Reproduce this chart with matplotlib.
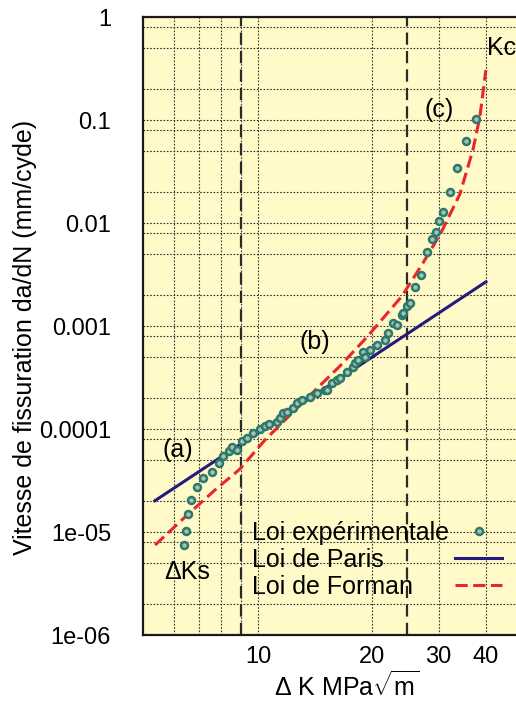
import matplotlib
matplotlib.use("Agg")
import matplotlib.pyplot as plt
from matplotlib.lines import Line2D

plt.rcParams['font.family'] = ['Liberation Sans', 'DejaVu Sans']
plt.rcParams['mathtext.fontset'] = 'custom'
plt.rcParams['mathtext.rm'] = 'Liberation Sans'

# experimental points (delta K, da/dN)
dk_exp = [6.36, 6.44, 6.52, 6.64, 6.90, 7.16, 7.56, 7.91, 8.08, 8.39, 8.52, 8.80,
          9.05, 9.33, 9.70, 10.12, 10.43, 10.72, 11.22, 11.43, 11.64, 11.93, 12.37,
          12.67, 13.07, 13.72, 14.31, 15.03, 15.21, 15.68, 16.16, 16.46, 17.18,
          17.81, 18.03, 18.36, 18.92, 19.16, 19.75, 20.61, 21.63, 22.03, 22.71,
          23.27, 23.99, 24.13, 24.72, 25.18, 25.96, 26.92, 28.01, 28.87, 29.49,
          30.13, 30.87, 32.12, 33.61, 35.38, 37.60]
rate_exp = [7.48e-6, 1.02e-5, 1.48e-5, 2.05e-5, 2.71e-5, 3.34e-5, 3.87e-5, 4.67e-5,
            5.53e-5, 6.11e-5, 6.68e-5, 6.25e-5, 7.73e-5, 8.26e-5, 9.14e-5, 1.01e-4,
            1.06e-4, 1.13e-4, 1.17e-4, 1.28e-4, 1.43e-4, 1.46e-4, 1.60e-4, 1.79e-4,
            1.91e-4, 2.05e-4, 2.24e-4, 2.39e-4, 2.39e-4, 2.80e-4, 2.99e-4, 3.13e-4,
            3.58e-4, 4.00e-4, 4.37e-4, 4.68e-4, 5.60e-4, 5.00e-4, 5.85e-4, 6.54e-4,
            7.32e-4, 8.56e-4, 1.06e-3, 1.02e-3, 1.28e-3, 1.34e-3, 1.55e-3, 1.69e-3,
            2.37e-3, 3.13e-3, 5.18e-3, 7.00e-3, 8.18e-3, 1.05e-2, 1.29e-2, 1.98e-2,
            3.46e-2, 6.33e-2, 0.1035]

# Paris law (straight line in log-log)
dk_paris = [5.34, 40.0]
rate_paris = [2.01e-5, 2.69e-3]

# Forman law
dk_forman = [5.35, 6.46, 7.70, 8.96, 10.43, 12.91, 16.46, 19.40, 23.99, 27.26,
             30.40, 34.12, 36.93, 38.53, 39.96]
rate_forman = [7.48e-6, 1.43e-5, 2.56e-5, 4.09e-5, 7.82e-5, 1.71e-4, 4.09e-4,
               7.82e-4, 1.95e-3, 4.09e-3, 8.0e-3, 1.91e-2, 5.11e-2, 0.107, 0.306]

# regime limits
dk_limits = [9.0, 24.7]

y_ticks = [1e-6, 1e-5, 1e-4, 1e-3, 1e-2, 1e-1, 1]
y_labels = ['1e-06', '1e-05', '0.0001', '0.001', '0.01', '0.1', '1']
x_ticks = [10, 20, 30, 40]
x_minor = [6, 7, 8, 9]

fig = plt.figure(figsize=(5.16, 7.02), dpi=100)
ax = fig.add_axes([0.2771, 0.0954, 0.7229, 0.8803])
ax.set_facecolor('#FFFAC8')
ax.set_xscale('log')
ax.set_yscale('log')
ax.set_xlim(4.97, 48)
ax.set_ylim(1e-6, 1)

ax.set_yticks(y_ticks)
ax.set_yticklabels(y_labels)
ax.set_yticks([k * 10.0 ** e for e in range(-6, 0) for k in (2, 5, 8)], minor=True)
ax.set_xticks(x_ticks)
ax.set_xticklabels([str(t) for t in x_ticks])
ax.set_xticks(x_minor, minor=True)
ax.xaxis.set_minor_formatter(plt.NullFormatter())
ax.yaxis.set_minor_formatter(plt.NullFormatter())
ax.tick_params(which='both', length=0)
ax.tick_params(axis='y', pad=23, labelsize=17)
ax.tick_params(axis='x', pad=8, labelsize=17)

ax.grid(True, which='both', linestyle=(0, (1.5, 1.5)), color='#333333', linewidth=0.8)
ax.set_axisbelow(True)

for side in ['left', 'top', 'bottom']:
    ax.spines[side].set_linewidth(1.6)
    ax.spines[side].set_color('#1a1a1a')
ax.spines['right'].set_visible(False)

for d in dk_limits:
    ax.axvline(d, color='#2a2a2a', linewidth=1.6, dashes=(5.5, 2.8), zorder=2)

paris, = ax.plot(dk_paris, rate_paris, color='#231C7A', linewidth=2.2, zorder=3)
forman, = ax.plot(dk_forman, rate_forman, color='#E8262B', linewidth=2.2,
                  dashes=(4, 1.8), zorder=3)
exp, = ax.plot(dk_exp, rate_exp, linestyle='none', marker='o', markersize=5,
               markerfacecolor='#A9C4AE', markeredgecolor='#2B786E',
               markeredgewidth=1.8, zorder=4)

names = ['Loi expérimentale', 'Loi de Paris', 'Loi de Forman']
leg_opts = dict(frameon=False, loc='upper left', borderpad=0, borderaxespad=0,
                labelspacing=0.12, numpoints=1, fontsize=18)

# labels column (left aligned)
blank = [Line2D([], [], linestyle='none') for _ in names]
leg_txt = ax.legend(blank, names, bbox_to_anchor=(0.292, 0.185),
                    handlelength=0, handletextpad=0, **leg_opts)
ax.add_artist(leg_txt)
# symbols column
ax.legend([exp, paris, forman], [' '] * 3, bbox_to_anchor=(0.836, 0.185),
          handlelength=1.9, handletextpad=0, **leg_opts)

ax.text(6.15, 6.25e-5, '(a)', fontsize=18, ha='center', va='center')
ax.text(14.1, 7.0e-4, '(b)', fontsize=18, ha='center', va='center')
ax.text(30.0, 0.125, '(c)', fontsize=18, ha='center', va='center')
ax.text(40.2, 0.50, 'Kc', fontsize=18, ha='left', va='center', clip_on=False)
ax.text(6.5, 4.09e-6, 'ΔKs', fontsize=18, ha='center', va='center')

fig.text(0.048, 0.52, 'Vitesse de fissuration da/dN (mm/cyde)', rotation=90,
         fontsize=18, ha='center', va='center')
fig.text(0.672, 0.022, r'Δ K MPa$\sqrt{\mathrm{m}}$', fontsize=18,
         ha='center', va='center')

fig.savefig('out.png', dpi=100)
